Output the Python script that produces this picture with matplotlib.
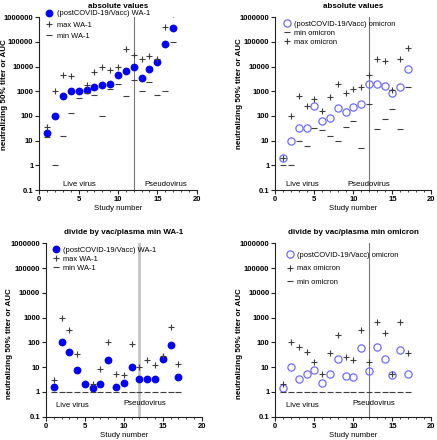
import numpy as np
import matplotlib
matplotlib.use("Agg")
import matplotlib.pyplot as plt
from matplotlib.ticker import FixedLocator, MultipleLocator, NullLocator, FuncFormatter

plt.rcParams['font.family'] = ['Liberation Sans', 'DejaVu Sans']

# ---------- Data ----------
study = np.arange(1, 18)

wa1_abs = [20, 100, 620, 1000, 1000, 1150, 1550, 1850, 1950, 4700, 6500,
           10000, 3500, 7800, 15000, 80000, 380000]
wa1_abs_max = [35, 1000, 4800, 4000, np.nan, 1750, 6000, 10000, 7000, 10000,
               54000, 29000, 20000, 28000, 21000, 400000, 1400000]
wa1_abs_min = [14, 1, 15, 130, 520, 830, 720, 100, 1240, 2000, 670,
               3000, 1000, 2400, 690, 1000, 100000]

omi_abs = [2, 10, 32, 32, 255, 65, 80, 210, 145, 230, 300,
           2000, 1950, 1600, 880, 1450, 8000]
omi_abs_max = [2, 100, 660, 260, 500, 155, 570, 2000, 850, 1200, 1500,
               4800, 20000, 16500, 1100, 20000, 55000]
omi_abs_min = [1, 1, 10, 6, 32, 28, 15, 10, 35, 60, 5,
               300, 30, 75, 200, 30, 1450]

wa1_rel = [1.65, 100, 41, 8, 2, 1.4, 2.1, 19, 1.6, 2.4, 10.3,
           3.3, 3.4, 3.4, 21, 80, 3.9]
wa1_rel_max = [2.9, 1000, 320, 33, np.nan, 2, 8.3, 100, 5.5, 4.9, 85,
               10, 20, 12, 29, 420, 13.7]
wa1_rel_min = [1] * 17

omi_rel = [1.5, 10, 3.2, 5.4, 8, 2.3, 5.5, 22, 4.3, 3.9, 61,
           6.9, 65, 22, 4.7, 49, 5.4]
omi_rel_max = [2, 100, 65, 42, 16.5, 5.4, 39, 205, 26, 20, 315,
               16.5, 660, 230, 5.5, 660, 37]
omi_rel_min = [1] * 17

# ---------- Style ----------
BLUE = "#0000ff"
OPEN = "#6f6cff"
GREY = "#3c3c3c"
W, H = 437, 440

fig = plt.figure(figsize=(W / 100, H / 100), dpi=100)


def make_axes(left, top, right, bottom):
    return fig.add_axes([left / W, 1 - bottom / H, (right - left) / W, (bottom - top) / H])


def style_axes(ax, title, ylab_x, ylab_y):
    ax.set_yscale("log")
    ax.set_ylim(0.1, 1e6)
    ax.set_xlim(0, 20)
    ax.yaxis.set_major_locator(FixedLocator([0.1, 1, 10, 100, 1e3, 1e4, 1e5, 1e6]))
    ax.yaxis.set_minor_locator(NullLocator())
    ax.yaxis.set_major_formatter(FuncFormatter(lambda v, p: "0.1" if v < 1 else f"{int(round(v))}"))
    ax.xaxis.set_major_locator(MultipleLocator(5))
    ax.xaxis.set_minor_locator(MultipleLocator(1))
    for s in ["top", "right"]:
        ax.spines[s].set_visible(False)
    for s in ["left", "bottom"]:
        ax.spines[s].set_color("#222222")
        ax.spines[s].set_linewidth(0.8)
    ax.tick_params(which="major", length=3, width=0.8, color="#222222", pad=1.2)
    ax.tick_params(which="minor", length=1.5, width=0.6, color="#222222")
    for lab in ax.get_xticklabels() + ax.get_yticklabels():
        lab.set_fontsize(5.5)
        lab.set_fontweight("bold")
    ax.set_title(title, fontsize=5.8, fontweight="bold", pad=7)
    ax.set_xlabel("Study number", fontsize=5.6, labelpad=1.5)
    ax.set_ylabel("neutralizing 50% titer or AUC", fontsize=5.8, fontweight="bold")
    ax.yaxis.set_label_coords(ylab_x, ylab_y)


# top-left
ax1 = make_axes(39.3, 17.3, 196.7, 190)
ax1.axvline(12, color="#777777", lw=0.8, zorder=0)
ax1.plot(study, wa1_abs, "o", color=BLUE, ms=4.6, label="(postCOVID-19/Vacc) WA-1")
ax1.plot(study, wa1_abs_max, "+", color=GREY, ms=5, mew=0.8, label="max WA-1")
ax1.plot(study, wa1_abs_min, "_", color=GREY, ms=5, mew=0.8, label="min WA-1")
ax1.text(3.0, 0.17, "Live virus", fontsize=5.6, va="center")
ax1.text(13.3, 0.17, "Pseudovirus", fontsize=5.6, va="center")
ax1.legend(loc="upper left", bbox_to_anchor=(0.02, 1.06), frameon=False, fontsize=5.4,
           handlelength=1.0, handletextpad=0.5, labelspacing=0.55, borderaxespad=0)
style_axes(ax1, "absolute values", -0.197, 0.55)

# top-right
ax2 = make_axes(275.3, 17.3, 431.3, 190)
ax2.axvline(12, color="#777777", lw=0.8, zorder=0)
ax2.plot(study, omi_abs, "o", mfc="none", mec=OPEN, mew=0.9, ms=5.2, label="(postCOVID-19/Vacc) omicron")
ax2.plot(study, omi_abs_min, "_", color=GREY, ms=5, mew=0.8, label="min omicron")
ax2.plot(study, omi_abs_max, "+", color=GREY, ms=5, mew=0.8, label="max omicron")
ax2.text(1.4, 0.17, "Live virus", fontsize=5.6, va="center")
ax2.text(9.3, 0.17, "Pseudovirus", fontsize=5.6, va="center")
ax2.legend(loc="upper left", bbox_to_anchor=(0.03, 1.0), frameon=False, fontsize=5.4,
           handlelength=1.0, handletextpad=0.5, labelspacing=0.25, borderaxespad=0)
style_axes(ax2, "absolute values", -0.21, 0.56)

# bottom-left
ax3 = make_axes(46, 243.3, 201.7, 416.7)
ax3.axvline(12, color="#c4c4c4", lw=2.0, zorder=0)
ax3.plot(study, wa1_rel, "o", color=BLUE, ms=4.6, label="(postCOVID-19/Vacc) WA-1")
ax3.plot(study, wa1_rel_max, "+", color=GREY, ms=5, mew=0.8, label="max WA-1")
ax3.plot(study, wa1_rel_min, "_", color=GREY, ms=5, mew=0.8, label="min WA-1")
ax3.text(1.3, 0.29, "Live virus", fontsize=5.6, va="center")
ax3.text(10.0, 0.35, "Pseudovirus", fontsize=5.6, va="center")
ax3.legend(loc="upper left", bbox_to_anchor=(0.02, 1.0), frameon=False, fontsize=5.4,
           handlelength=1.0, handletextpad=0.5, labelspacing=0.25, borderaxespad=0)
style_axes(ax3, "divide by vac/plasma min WA-1", -0.21, 0.42)

# bottom-right
ax4 = make_axes(275.3, 243.3, 431.3, 416.7)
ax4.axvline(12, color="#777777", lw=0.8, zorder=0)
ax4.plot(study, omi_rel, "o", mfc="none", mec=OPEN, mew=0.9, ms=5.2, label="(postCOVID-19/Vacc) omicron")
ax4.plot(study, omi_rel_max, "+", color=GREY, ms=5, mew=0.8, label="max omicron")
ax4.plot(study, omi_rel_min, "_", color=GREY, ms=5, mew=0.8, label="min omicron")
ax4.text(1.4, 0.29, "Live virus", fontsize=5.6, va="center")
ax4.text(9.9, 0.35, "Pseudovirus", fontsize=5.6, va="center")
ax4.legend(loc="upper left", bbox_to_anchor=(0.05, 0.97), frameon=False, fontsize=5.4,
           handlelength=1.0, handletextpad=0.5, labelspacing=0.85, borderaxespad=0)
style_axes(ax4, "divide by vac/plasma min omicron", -0.21, 0.42)

fig.savefig("out.png", dpi=100)
